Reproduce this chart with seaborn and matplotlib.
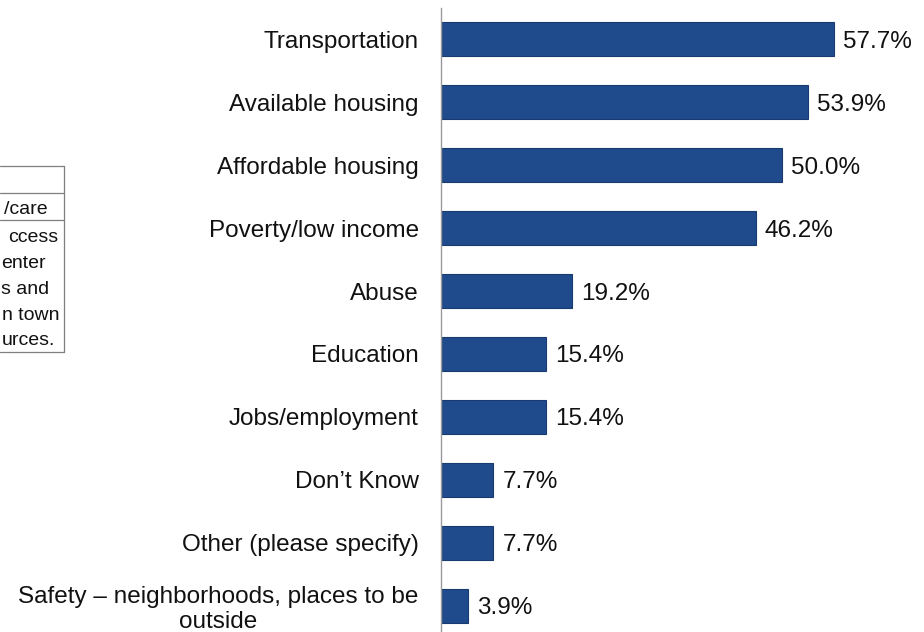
import matplotlib
matplotlib.use("Agg")
import matplotlib.pyplot as plt
from matplotlib.lines import Line2D
import pandas as pd
import seaborn as sns

# survey answers
categories = [
    "Transportation",
    "Available housing",
    "Affordable housing",
    "Poverty/low income",
    "Abuse",
    "Education",
    "Jobs/employment",
    "Don\u2019t Know",
    "Other (please specify)",
    "Safety \u2013 neighborhoods, places to be\noutside",
]
percents = [57.7, 53.9, 50.0, 46.2, 19.2, 15.4, 15.4, 7.7, 7.7, 3.9]

# clipped table fragment on the left edge
table_header = "/care"
table_lines = ["ccess", "enter", "s and", "n town", "urces."]
table_right = [58, 46, 49, 59, 55]  # right edge of each fragment, px

df = pd.DataFrame({"category": categories, "percent": percents})

sns.set_style("white")
plt.rcParams["font.family"] = ["Liberation Sans", "DejaVu Sans"]

fig = plt.figure(figsize=(9.24, 6.32), dpi=100)
ax = fig.add_axes([441 / 924, 1 - 637 / 632, (915 - 441) / 924, (637 - 8) / 632])

sns.barplot(data=df, x="percent", y="category", orient="h", ax=ax,
            color="#1f4a8c", width=0.54, edgecolor="#183a6e", linewidth=0.8,
            saturation=1)

labels = ax.bar_label(ax.containers[0], fmt="%.1f%%", padding=6.5,
                      fontsize=17.5, color="#111111")
for t in labels:
    t.set_va("center_baseline")

ax.set_xlim(0, 69.6)
ax.set_ylim(9.5, -0.5)
ax.set_xlabel("")
ax.set_ylabel("")
ax.set_xticks([])
ax.tick_params(axis="y", length=0, pad=16, labelsize=17.5, labelcolor="#111111")
for lab in ax.get_yticklabels():
    lab.set_multialignment("center")

for side in ["top", "right", "bottom"]:
    ax.spines[side].set_visible(False)
ax.spines["left"].set_color("#9a9a9a")
ax.spines["left"].set_linewidth(1.0)

# table fragment
def fx(px):
    return px / 924

def fy(py):
    return 1 - py / 632

tcol = "#7f7f7f"
for yy in [166, 193, 220, 352]:
    fig.add_artist(Line2D([fx(0), fx(64)], [fy(yy), fy(yy)], color=tcol, lw=0.9))
fig.add_artist(Line2D([fx(64), fx(64)], [fy(166), fy(352)], color=tcol, lw=0.9))

fig.text(fx(48), fy(207), table_header, ha="right", va="center_baseline",
         fontsize=14, color="#111111")
for i, t in enumerate(table_lines):
    fig.text(fx(table_right[i]), fy(236 + 25.7 * i), t, ha="right",
             va="center_baseline", fontsize=14, color="#111111")

fig.savefig("out.png", dpi=100)
